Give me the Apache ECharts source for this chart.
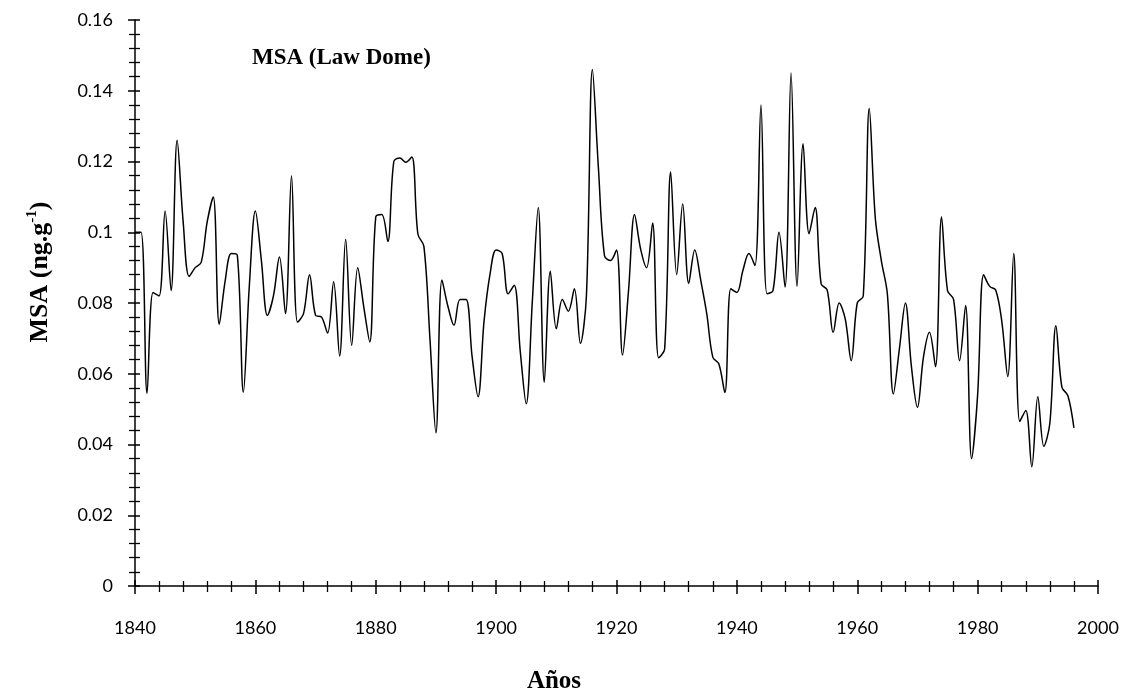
<!DOCTYPE html>
<html>
<head>
<meta charset="utf-8">
<script src="https://cdn.jsdelivr.net/npm/echarts@6/dist/echarts.min.js"></script>
<style>
  html, body { margin: 0; padding: 0; background: #fff; }
  #chart { width: 1133px; height: 700px; }
</style>
</head>
<body>
<div id="chart"></div>
<script>
  // years of the record
  const years = [
    1840, 1841, 1842, 1843, 1844, 1845, 1846, 1847, 1848, 1849,
    1850, 1851, 1852, 1853, 1854, 1855, 1856, 1857, 1858, 1859,
    1860, 1861, 1862, 1863, 1864, 1865, 1866, 1867, 1868, 1869,
    1870, 1871, 1872, 1873, 1874, 1875, 1876, 1877, 1878, 1879,
    1880, 1881, 1882, 1883, 1884, 1885, 1886, 1887, 1888, 1889,
    1890, 1891, 1892, 1893, 1894, 1895, 1896, 1897, 1898, 1899,
    1900, 1901, 1902, 1903, 1904, 1905, 1906, 1907, 1908, 1909,
    1910, 1911, 1912, 1913, 1914, 1915, 1916, 1917, 1918, 1919,
    1920, 1921, 1922, 1923, 1924, 1925, 1926, 1927, 1928, 1929,
    1930, 1931, 1932, 1933, 1934, 1935, 1936, 1937, 1938, 1939,
    1940, 1941, 1942, 1943, 1944, 1945, 1946, 1947, 1948, 1949,
    1950, 1951, 1952, 1953, 1954, 1955, 1956, 1957, 1958, 1959,
    1960, 1961, 1962, 1963, 1964, 1965, 1966, 1967, 1968, 1969,
    1970, 1971, 1972, 1973, 1974, 1975, 1976, 1977, 1978, 1979,
    1980, 1981, 1982, 1983, 1984, 1985, 1986, 1987, 1988, 1989,
    1990, 1991, 1992, 1993, 1994, 1995, 1996
  ];

  // MSA (ng.g-1), one value per year
  const msa = [
    0.100, 0.100, 0.0545, 0.083, 0.082, 0.106, 0.0835, 0.126, 0.103, 0.0875,
    0.090, 0.0915, 0.103, 0.110, 0.074, 0.0865, 0.094, 0.0935, 0.0548, 0.085,
    0.106, 0.092, 0.0765, 0.082, 0.093, 0.077, 0.116, 0.0746, 0.077, 0.088,
    0.0765, 0.076, 0.0715, 0.086, 0.065, 0.098, 0.068, 0.090, 0.079, 0.069,
    0.1043, 0.105, 0.0974, 0.120, 0.121, 0.1198, 0.1213, 0.0995, 0.096, 0.070,
    0.0433, 0.0865, 0.079, 0.0737, 0.081, 0.081, 0.065, 0.0535, 0.075, 0.0883,
    0.095, 0.094, 0.0826, 0.085, 0.0665, 0.0515, 0.080, 0.107, 0.0576, 0.089,
    0.0727, 0.081, 0.0777, 0.084, 0.0686, 0.082, 0.146, 0.118, 0.0934, 0.092,
    0.095, 0.0653, 0.0835, 0.105, 0.0953, 0.090, 0.1026, 0.0645, 0.067, 0.117,
    0.088, 0.108, 0.0855, 0.095, 0.0864, 0.0769, 0.0647, 0.0628, 0.0547, 0.084,
    0.083, 0.0892, 0.094, 0.0906, 0.136, 0.0826, 0.0835, 0.100, 0.0845, 0.145,
    0.0847, 0.125, 0.0996, 0.107, 0.0854, 0.0837, 0.0717, 0.080, 0.0755, 0.0637,
    0.080, 0.082, 0.135, 0.104, 0.092, 0.0826, 0.0543, 0.067, 0.080, 0.062,
    0.0505, 0.0647, 0.0717, 0.062, 0.1043, 0.0835, 0.081, 0.0637, 0.0793, 0.036,
    0.054, 0.088, 0.0847, 0.0837, 0.075, 0.0592, 0.094, 0.0465, 0.0496, 0.0337,
    0.0535, 0.0395, 0.046, 0.0736, 0.0562, 0.0538, 0.0447
  ];

  const yTickLabels = ['0', '0.02', '0.04', '0.06', '0.08', '0.1', '0.12', '0.14', '0.16'];

  const chart = echarts.init(document.getElementById('chart'));
  const labelFont = { color: '#000', fontFamily: 'Lato', fontSize: 18 };
  const serifBold = { fontFamily: '"Liberation Serif", "DejaVu Serif", serif', fontWeight: 'bold', fill: '#000' };

  const xBase = { type: 'value', min: 1840, max: 2000, interval: 20, position: 'bottom', splitLine: { show: false } };
  const yBase = { type: 'value', min: 0, max: 0.16, interval: 0.02, position: 'left', splitLine: { show: false } };

  chart.setOption({
    animation: false,
    grid: { left: 135, right: 35, top: 20, bottom: 114 },
    xAxis: [
      {
        ...xBase,
        axisLine: { show: true, lineStyle: { color: '#000', width: 1.5 } },
        axisTick: { show: true, inside: false, length: 8, lineStyle: { color: '#000', width: 1.5 } },
        minorTick: { show: true, splitNumber: 5, length: 6, lineStyle: { color: '#000', width: 1.3 } },
        axisLabel: { ...labelFont, margin: 33, formatter: (value) => String(value) },
      },
      {
        ...xBase,
        axisLine: { show: false },
        axisTick: { show: true, inside: true, length: 6, lineStyle: { color: '#000', width: 1.5 } },
        minorTick: { show: true, splitNumber: 5, length: 5, lineStyle: { color: '#000', width: 1.3 } },
        axisLabel: { show: false },
      },
    ],
    yAxis: [
      {
        ...yBase,
        axisLine: { show: true, lineStyle: { color: '#000', width: 1.5 } },
        axisTick: { show: true, inside: false, length: 7, lineStyle: { color: '#000', width: 1.5 } },
        minorTick: { show: true, splitNumber: 5, length: 6, lineStyle: { color: '#000', width: 1.3 } },
        axisLabel: {
          ...labelFont,
          margin: 22,
          formatter: (value) => yTickLabels[Math.round(value / 0.02)] ?? '',
        },
      },
      {
        ...yBase,
        axisLine: { show: false },
        axisTick: { show: true, inside: true, length: 5, lineStyle: { color: '#000', width: 1.5 } },
        minorTick: { show: true, splitNumber: 5, length: 5, lineStyle: { color: '#000', width: 1.3 } },
        axisLabel: { show: false },
      },
    ],
    series: [
      {
        type: 'line',
        xAxisIndex: 0,
        yAxisIndex: 0,
        data: years.map((year, i) => [year, msa[i]]),
        smooth: 0.35,
        showSymbol: false,
        lineStyle: { color: '#000', width: 1.5 },
      },
    ],
    graphic: [
      {
        type: 'text',
        left: 252,
        top: 47,
        style: { ...serifBold, text: 'MSA (Law Dome)', fontSize: 23 },
      },
      {
        type: 'text',
        x: 554,
        y: 682,
        style: { ...serifBold, text: 'Años', fontSize: 25, align: 'center', verticalAlign: 'middle' },
      },
      {
        type: 'text',
        x: 40,
        y: 272,
        rotation: Math.PI / 2,
        style: {
          text: '{a|MSA (ng.g}{s|-1}{a|)}',
          align: 'center',
          verticalAlign: 'middle',
          rich: {
            a: { ...serifBold, fontSize: 26, color: '#000' },
            s: { ...serifBold, fontSize: 15, color: '#000', padding: [0, 0, 15, 0] },
          },
        },
      },
    ],
  });
</script>
</body>
</html>
